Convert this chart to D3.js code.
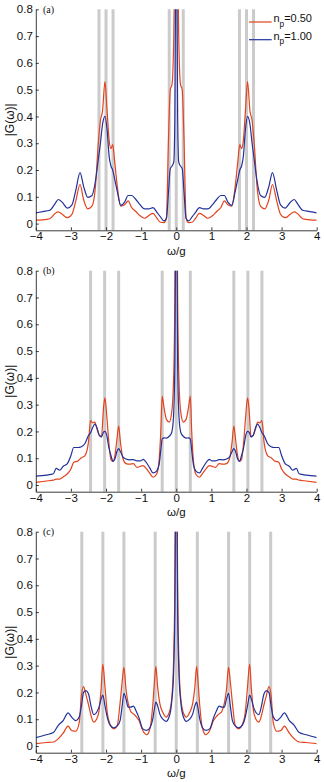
<!DOCTYPE html>
<html><head><meta charset="utf-8">
<script src="https://cdn.jsdelivr.net/npm/d3@7"></script>
<style>
html,body{margin:0;padding:0;background:#fff;}
svg{display:block;}
</style></head>
<body>
<svg id="chart" width="324" height="782"></svg>
<script>
// ---------- data ----------
const panelLabels = ["(a)", "(b)", "(c)"];
const legendLabels = [["n", "p", "=0.50"], ["n", "p", "=1.00"]];
const xTicks = [-4, -3, -2, -1, 0, 1, 2, 3, 4];
const xTickLabels = ["\u22124", "\u22123", "\u22122", "\u22121", "0", "1", "2", "3", "4"];
const yTicks = [0, 0.1, 0.2, 0.3, 0.4, 0.5, 0.6, 0.7, 0.8];
const yTickLabels = ["0", "0.1", "0.2", "0.3", "0.4", "0.5", "0.6", "0.7", "0.8"];

const barsA = [-2.2, -2.0, -1.8, -0.2, 0, 0.2, 1.8, 2.0, 2.2];
const barsB = [-2.44, -2.04, -1.64, -0.4, 0, 0.4, 1.64, 2.04, 2.44];
const barsC = [-2.69, -2.09, -1.49, -0.6, 0, 0.6, 1.49, 2.09, 2.69];

const xA = [-4.0,-3.8,-3.6,-3.45,-3.36,-3.25,-3.1,-2.97,-2.86,-2.74,-2.64,-2.52,-2.4,-2.3,-2.22,-2.16,-2.1,-2.03,-1.97,-1.91,-1.86,-1.81,-1.76,-1.68,-1.58,-1.47,-1.37,-1.27,-1.15,-1.04,-0.9,-0.78,-0.66,-0.55,-0.45,-0.35,-0.28,-0.22,-0.17,-0.12,-0.07,-0.04,-0.02,
  0,
  0.02,0.04,0.07,0.12,0.17,0.22,0.28,0.35,0.45,0.55,0.66,0.78,0.9,1.04,1.15,1.27,1.37,1.47,1.58,1.68,1.76,1.81,1.86,1.91,1.97,2.03,2.1,2.16,2.22,2.3,2.4,2.52,2.64,2.74,2.86,2.97,3.1,3.25,3.36,3.45,3.6,3.8,4.0];
const redA = [0.013,0.014,0.018,0.038,0.044,0.035,0.022,0.035,0.085,0.146,0.090,0.055,0.065,0.140,0.300,0.385,0.420,0.530,0.420,0.310,0.280,0.295,0.240,0.140,0.065,0.070,0.085,0.060,0.045,0.030,0.020,0.030,0.038,0.020,0.005,0.004,0.020,0.320,0.500,0.520,0.700,1.000,1.300,
  1.800,
  1.300,1.000,0.700,0.520,0.500,0.320,0.020,0.004,0.005,0.020,0.038,0.030,0.020,0.030,0.045,0.060,0.085,0.070,0.065,0.140,0.240,0.295,0.280,0.310,0.420,0.530,0.420,0.385,0.300,0.140,0.065,0.055,0.090,0.146,0.085,0.035,0.022,0.035,0.044,0.038,0.018,0.014,0.013];
const blueA = [0.040,0.045,0.050,0.075,0.090,0.080,0.058,0.070,0.125,0.190,0.140,0.098,0.105,0.160,0.240,0.300,0.370,0.400,0.350,0.250,0.215,0.200,0.170,0.120,0.068,0.080,0.105,0.105,0.090,0.072,0.055,0.055,0.060,0.042,0.025,0.010,0.020,0.120,0.205,0.215,0.230,0.400,0.850,
  1.600,
  0.850,0.400,0.230,0.215,0.205,0.120,0.020,0.010,0.025,0.042,0.060,0.055,0.055,0.072,0.090,0.105,0.105,0.080,0.068,0.120,0.170,0.200,0.215,0.250,0.350,0.400,0.370,0.300,0.240,0.160,0.105,0.098,0.140,0.190,0.125,0.070,0.058,0.080,0.090,0.075,0.050,0.045,0.040];

const xB = [-4.0,-3.7,-3.5,-3.42,-3.32,-3.22,-3.1,-3.0,-2.92,-2.8,-2.7,-2.6,-2.5,-2.44,-2.38,-2.32,-2.26,-2.19,-2.13,-2.07,-2.03,-1.98,-1.92,-1.86,-1.8,-1.74,-1.69,-1.64,-1.59,-1.52,-1.43,-1.33,-1.22,-1.12,-1.02,-0.94,-0.86,-0.76,-0.66,-0.56,-0.49,-0.44,-0.4,-0.35,-0.28,-0.2,-0.13,-0.08,-0.04,-0.02,
  0,
  0.02,0.04,0.08,0.13,0.2,0.28,0.35,0.4,0.44,0.49,0.56,0.66,0.76,0.86,0.94,1.02,1.12,1.22,1.33,1.43,1.52,1.59,1.64,1.69,1.74,1.8,1.86,1.92,1.98,2.03,2.07,2.13,2.19,2.26,2.32,2.38,2.44,2.5,2.6,2.7,2.8,2.92,3.0,3.1,3.22,3.32,3.42,3.5,3.7,4.0];
const redB = [0.010,0.015,0.018,0.022,0.022,0.030,0.042,0.060,0.085,0.090,0.102,0.110,0.160,0.240,0.232,0.235,0.210,0.185,0.180,0.290,0.325,0.260,0.160,0.095,0.088,0.115,0.170,0.220,0.160,0.100,0.080,0.078,0.080,0.066,0.070,0.072,0.062,0.045,0.029,0.040,0.090,0.200,0.332,0.290,0.245,0.235,0.270,0.380,0.700,1.100,
  1.800,
  1.100,0.700,0.380,0.270,0.235,0.245,0.290,0.332,0.200,0.090,0.040,0.029,0.045,0.062,0.072,0.070,0.066,0.080,0.078,0.080,0.100,0.160,0.220,0.170,0.115,0.088,0.095,0.160,0.260,0.325,0.290,0.180,0.185,0.210,0.235,0.232,0.240,0.160,0.110,0.102,0.090,0.085,0.060,0.042,0.030,0.022,0.022,0.018,0.015,0.010];
const blueB = [0.033,0.037,0.042,0.062,0.055,0.070,0.080,0.110,0.140,0.140,0.143,0.155,0.185,0.195,0.215,0.227,0.215,0.185,0.180,0.198,0.200,0.185,0.140,0.110,0.088,0.100,0.125,0.136,0.125,0.105,0.097,0.094,0.095,0.090,0.090,0.096,0.085,0.065,0.045,0.052,0.075,0.130,0.172,0.176,0.175,0.182,0.196,0.250,0.450,0.900,
  1.600,
  0.900,0.450,0.250,0.196,0.182,0.175,0.176,0.172,0.130,0.075,0.052,0.045,0.065,0.085,0.096,0.090,0.090,0.095,0.094,0.097,0.105,0.125,0.136,0.125,0.100,0.088,0.110,0.140,0.185,0.200,0.198,0.180,0.185,0.215,0.227,0.215,0.195,0.185,0.155,0.143,0.140,0.140,0.110,0.080,0.070,0.055,0.062,0.042,0.037,0.033];

const xC = [-4.0,-3.7,-3.5,-3.36,-3.22,-3.08,-2.98,-2.86,-2.76,-2.7,-2.64,-2.57,-2.5,-2.42,-2.35,-2.27,-2.2,-2.14,-2.09,-2.03,-1.96,-1.88,-1.78,-1.68,-1.6,-1.54,-1.49,-1.43,-1.37,-1.3,-1.22,-1.14,-1.06,-0.96,-0.84,-0.74,-0.67,-0.62,-0.58,-0.53,-0.47,-0.38,-0.29,-0.2,-0.13,-0.08,-0.04,-0.02,
  0,
  0.02,0.04,0.08,0.13,0.2,0.29,0.38,0.47,0.53,0.58,0.62,0.67,0.74,0.84,0.96,1.06,1.14,1.22,1.3,1.37,1.43,1.49,1.54,1.6,1.68,1.78,1.88,1.96,2.03,2.09,2.14,2.2,2.27,2.35,2.42,2.5,2.57,2.64,2.7,2.76,2.86,2.98,3.08,3.22,3.36,3.5,3.7,4.0];
const redC = [0.009,0.013,0.015,0.027,0.048,0.074,0.058,0.055,0.090,0.190,0.222,0.190,0.155,0.110,0.089,0.100,0.130,0.213,0.306,0.220,0.120,0.080,0.064,0.077,0.160,0.240,0.294,0.210,0.160,0.130,0.120,0.110,0.095,0.060,0.042,0.070,0.150,0.240,0.297,0.220,0.160,0.125,0.108,0.125,0.176,0.300,0.600,1.000,
  1.800,
  1.000,0.600,0.300,0.176,0.125,0.108,0.125,0.160,0.220,0.297,0.240,0.150,0.070,0.042,0.060,0.095,0.110,0.120,0.130,0.160,0.210,0.294,0.240,0.160,0.077,0.064,0.080,0.120,0.220,0.306,0.213,0.130,0.100,0.089,0.110,0.155,0.190,0.222,0.190,0.090,0.055,0.058,0.074,0.048,0.027,0.015,0.013,0.009];
const blueC = [0.031,0.042,0.050,0.077,0.095,0.124,0.108,0.095,0.110,0.150,0.200,0.207,0.195,0.145,0.117,0.125,0.145,0.175,0.190,0.150,0.105,0.077,0.068,0.075,0.095,0.150,0.197,0.175,0.145,0.145,0.149,0.130,0.105,0.065,0.058,0.070,0.100,0.140,0.164,0.150,0.120,0.100,0.092,0.110,0.164,0.260,0.500,0.900,
  1.600,
  0.900,0.500,0.260,0.164,0.110,0.092,0.100,0.120,0.150,0.164,0.140,0.100,0.070,0.058,0.065,0.105,0.130,0.149,0.145,0.145,0.175,0.197,0.150,0.095,0.075,0.068,0.077,0.105,0.150,0.190,0.175,0.145,0.125,0.117,0.145,0.195,0.207,0.200,0.150,0.110,0.095,0.108,0.124,0.095,0.077,0.050,0.042,0.031];

// ---------- layout / style ----------
const RED = "#e4431d", BLUE = "#22329b", BAR = "#cbcbcb", AXIS = "#262626";
const FONT = "'Liberation Sans', Arial, Helvetica, sans-serif";
const left = 35.8, right = 316.7;
const panelTops = [9.3, 270.7, 531.7];
const panelH = 221;
const panels = [
  {x: xA, red: redA, blue: blueA, bars: barsA},
  {x: xB, red: redB, blue: blueB, bars: barsB},
  {x: xC, red: redC, blue: blueC, bars: barsC}
];

const svg = d3.select("#chart");
const defs = svg.append("defs");
const x = d3.scaleLinear().domain([-4, 4]).range([left, right]);

panels.forEach((p, i) => {
  const top = panelTops[i], bottom = top + panelH;
  const y = d3.scaleLinear().domain([-0.025, 0.8]).range([bottom, top]);
  const g = svg.append("g");

  const clipId = "clip" + i;
  defs.append("clipPath").attr("id", clipId)
    .append("rect").attr("x", left).attr("y", top).attr("width", right - left).attr("height", panelH);

  // grey vertical bars
  g.append("g").selectAll("line").data(p.bars).join("line")
    .attr("x1", d => x(d)).attr("x2", d => x(d))
    .attr("y1", y(0.8)).attr("y2", y(-0.025))
    .attr("stroke", BAR).attr("stroke-width", 3);

  const line = d3.line().curve(d3.curveMonotoneX);
  const plot = g.append("g").attr("clip-path", `url(#${clipId})`);
  plot.append("path")
    .attr("d", line(p.x.map((v, k) => [x(v), y(p.red[k])])))
    .attr("fill", "none").attr("stroke", RED).attr("stroke-width", 1.2);
  plot.append("path")
    .attr("d", line(p.x.map((v, k) => [x(v), y(p.blue[k])])))
    .attr("fill", "none").attr("stroke", BLUE).attr("stroke-width", 1.2);

  // axes
  const yAxis = d3.axisLeft(y).tickValues(yTicks).tickSizeInner(-3).tickSizeOuter(0).tickPadding(3)
    .tickFormat((d, k) => yTickLabels[k]);
  const gy = g.append("g").attr("transform", `translate(${left},0)`).call(yAxis);
  const xAxis = d3.axisBottom(x).tickValues(xTicks).tickSizeInner(-3).tickSizeOuter(0).tickPadding(2)
    .tickFormat((d, k) => xTickLabels[k]);
  const gx = g.append("g").attr("transform", `translate(0,${bottom})`).call(xAxis);
  [gx, gy].forEach(a => {
    a.selectAll("path, line").attr("stroke", AXIS).attr("stroke-width", 0.9);
    a.selectAll("text").attr("fill", "#111").style("font-family", FONT).style("font-size", "11.5px");
  });

  // axis titles
  g.append("text").attr("x", (left + right) / 2).attr("y", bottom + 24.5)
    .attr("text-anchor", "middle").attr("fill", "#111")
    .style("font-family", FONT).style("font-size", "11.5px")
    .text("\u03c9/g");
  g.append("text").attr("transform", `translate(13.5,${(top + bottom) / 2}) rotate(-90)`)
    .attr("text-anchor", "middle").attr("fill", "#111")
    .style("font-family", FONT).style("font-size", "12px")
    .text("|G(\u03c9)|");

  // panel label
  g.append("text").attr("x", 43).attr("y", top + 3.5).attr("fill", "#111")
    .style("font-family", "'Liberation Serif', 'Times New Roman', serif").style("font-size", "10px")
    .text(panelLabels[i]);

  // legend (panel a only)
  if (i === 0) {
    const leg = g.append("g");
    const items = [{c: RED, t: legendLabels[0], yy: top + 12.7}, {c: BLUE, t: legendLabels[1], yy: top + 30.4}];
    items.forEach(it => {
      leg.append("line").attr("x1", 249).attr("x2", 271.7).attr("y1", it.yy).attr("y2", it.yy)
        .attr("stroke", it.c).attr("stroke-width", 1.2);
      const t = leg.append("text").attr("x", 273.4).attr("y", it.yy + 0.3).attr("fill", "#111")
        .style("font-family", FONT).style("font-size", "11px");
      t.append("tspan").text(it.t[0]);
      t.append("tspan").attr("dy", 4.3).style("font-size", "8.3px").text(it.t[1]);
      t.append("tspan").attr("dy", -4.3).text(it.t[2]);
    });
  }
});
</script>
</body></html>
